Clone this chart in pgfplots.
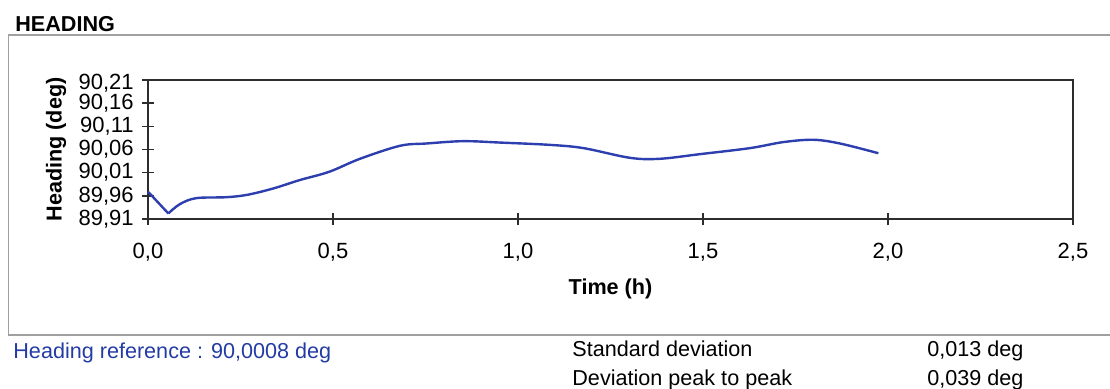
\documentclass[border=0pt]{standalone}
\usepackage{fontspec}
\setmainfont{Liberation Sans}
\usepackage{pgfplots}
\pgfplotsset{compat=1.18}
\definecolor{curveblue}{RGB}{45,62,175}
\definecolor{textblue}{RGB}{35,60,165}
\definecolor{framegray}{RGB}{160,160,160}
\definecolor{axisgray}{RGB}{45,45,45}
\begin{document}
\fontsize{10.8}{12.5}\selectfont
\begin{tikzpicture}
\path[use as bounding box] (0pt,0pt) rectangle (555pt,194pt);
\draw[framegray, line width=0.8pt] (560pt,176.5pt) -- (4.25pt,176.5pt) -- (4.25pt,26.5pt) -- (560pt,26.5pt);
\node[anchor=base west, inner sep=0pt, font=\bfseries] at (7.5pt,178.5pt) {HEADING};
\begin{axis}[
  at={(74pt,84.5pt)}, anchor=south west,
  scale only axis, width=462.5pt, height=69.5pt,
  xmin=0, xmax=2.5, ymin=89.91, ymax=90.21,
  axis line style={axisgray, line width=0.9pt},
  xtick={0,0.5,1,1.5,2,2.5},
  xticklabels={0{,}0,0{,}5,1{,}0,1{,}5,2{,}0,2{,}5},
  ytick={89.91,89.96,90.01,90.06,90.11,90.16},
  yticklabels={89{,}91,89{,}96,90{,}01,90{,}06,90{,}11,90{,}16},
  extra y ticks={90.21},
  extra y tick labels={90{,}21},
  extra y tick style={yticklabel style={yshift=-1.5pt}},
  xtick pos=bottom, ytick pos=left,
  tick align=center,
  major tick length=6pt,
  tick style={axisgray, line width=0.7pt},
  ticklabel style={font=\fontsize{11}{13}\selectfont},
  xticklabel style={anchor=center, yshift=-13.5pt, inner sep=0pt},
  yticklabel style={anchor=east, xshift=-4pt, inner sep=0pt},
  xlabel={\bfseries Time (h)},
  ylabel={\bfseries Heading (deg)},
  xlabel style={at={([yshift=-35pt]axis description cs:0.5,0)}, anchor=center, inner sep=0pt},
  ylabel style={at={([xshift=-46pt]axis description cs:0,0.5)}, anchor=center, inner sep=0pt},
  clip=false,
]
\addplot[curveblue, line width=1.2pt] coordinates {
(0,89.969) (0.055,89.922)
};
\addplot[curveblue, line width=1.2pt, smooth, tension=0.55] coordinates {
(0.055,89.922) (0.086,89.942) (0.13,89.955) (0.21,89.957) (0.267,89.962)
(0.339,89.976) (0.41,89.994) (0.49,90.012) (0.573,90.040) (0.681,90.068)
(0.753,90.073) (0.852,90.078) (0.951,90.075) (1.086,90.070) (1.177,90.063)
(1.303,90.042) (1.384,90.040) (1.492,90.050) (1.627,90.063) (1.717,90.076)
(1.798,90.081) (1.870,90.073) (1.974,90.052)
};
\end{axis}
\node[anchor=base west, inner sep=0pt, text=textblue] at (6.5pt,15pt) {Heading reference : 90,0008 deg};
\node[anchor=base west, inner sep=0pt] at (286pt,15.65pt) {Standard deviation};
\node[anchor=base west, inner sep=0pt] at (286pt,1.25pt) {Deviation peak to peak};
\node[anchor=base west, inner sep=0pt] at (463.5pt,15.65pt) {0,013 deg};
\node[anchor=base west, inner sep=0pt] at (463.5pt,1.25pt) {0,039 deg};
\end{tikzpicture}
\end{document}
